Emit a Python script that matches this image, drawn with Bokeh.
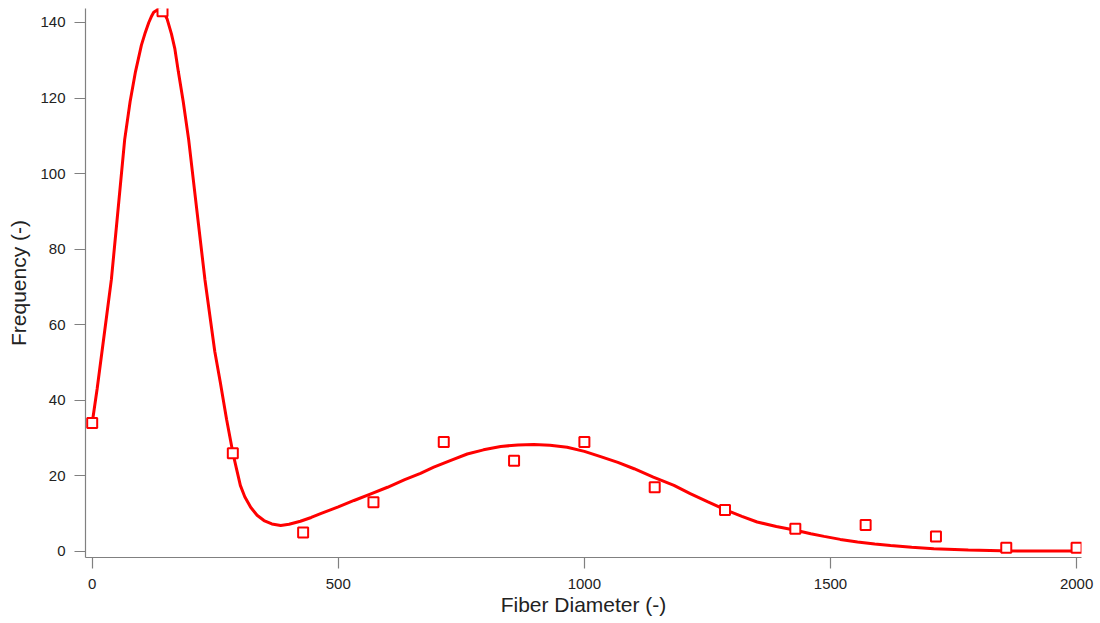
from bokeh.plotting import figure
from bokeh.models import FixedTicker
from bokeh.embed import file_html
from bokeh.resources import INLINE

# Measured histogram points
diameter = [0, 142.86, 285.71, 428.57, 571.43, 714.29, 857.14, 1000,
            1142.86, 1285.71, 1428.57, 1571.43, 1714.29, 1857.14, 2000]
frequency = [34, 143, 26, 5, 13, 29, 24, 29, 17, 11, 6, 7, 4, 1, 1]

# Fitted curve
curve_x = [0, 10, 20, 30, 39, 50, 66, 77, 88, 100, 107, 115, 120, 125, 133,
           140, 146, 152, 161, 168, 175, 185, 196, 212, 229, 249, 260, 273,
           286, 293, 301, 310, 322, 335, 349, 365, 383, 400, 423, 445, 464,
           500, 532, 565, 600, 635, 667, 694, 730, 762, 795, 830, 865, 897,
           930, 965, 1000, 1033, 1068, 1101, 1140, 1182, 1215, 1250, 1287,
           1320, 1351, 1390, 1429, 1460, 1487, 1520, 1555, 1590, 1622, 1665,
           1710, 1780, 1846, 1920, 2000]
curve_y = [34, 43, 53, 63, 72, 87, 109, 119, 127, 134, 137, 140, 141.5, 142.7,
           143.4, 143.2, 142.5, 141, 137, 133, 127, 119, 109, 91, 72, 53, 45,
           35, 26, 22, 17.5, 14.5, 11.7, 9.6, 8.2, 7.3, 6.9, 7.2, 8.0, 9.0,
           10.0, 11.8, 13.5, 15.2, 17.0, 19.0, 20.7, 22.3, 24.2, 25.8, 26.9,
           27.8, 28.2, 28.3, 28.1, 27.6, 26.5, 25.1, 23.6, 21.9, 19.7, 17.5,
           15.3, 13.2, 11.0, 9.3, 7.8, 6.6, 5.6, 4.7, 4.0, 3.2, 2.5, 2.0, 1.6,
           1.1, 0.7, 0.4, 0.2, 0.1, 0.1]

x_ticks = [0, 500, 1000, 1500, 2000]
y_ticks = [0, 20, 40, 60, 80, 100, 120, 140]

p = figure(width=1100, height=623, x_range=(-13.6, 2010), y_range=(-1.59, 143.7),
           output_backend="svg", toolbar_location=None,
           min_border_left=85, min_border_right=19, min_border_top=8,
           min_border_bottom=66)
p.xgrid.visible = False
p.ygrid.visible = False
p.outline_line_color = None

p.xaxis.ticker = FixedTicker(ticks=x_ticks)
p.yaxis.ticker = FixedTicker(ticks=y_ticks)
p.xaxis.axis_label = "Fiber Diameter (-)"
p.yaxis.axis_label = "Frequency (-)"

for ax in (p.xaxis, p.yaxis):
    ax.axis_line_color = "#808080"
    ax.axis_line_width = 1.2
    ax.major_tick_line_color = "#808080"
    ax.major_tick_line_width = 1.2
    ax.major_tick_out = 11
    ax.major_tick_in = 0
    ax.minor_tick_line_color = None
    ax.major_label_text_font = "Liberation Sans"
    ax.major_label_text_font_size = "15px"
    ax.major_label_text_color = "#222222"
    ax.axis_label_text_font = "Liberation Sans"
    ax.axis_label_text_font_size = "21px"
    ax.axis_label_text_font_style = "normal"
    ax.axis_label_text_color = "#222222"

p.xaxis.major_label_standoff = 10
p.xaxis.axis_label_standoff = 1
p.yaxis.major_label_standoff = 9
p.yaxis.axis_label_standoff = 7

p.line(curve_x, curve_y, line_color="#FF0000", line_width=3)
p.scatter(diameter, frequency, marker="square", size=10, line_color="#FF0000",
          line_width=2, fill_color="white")

open("out.html", "w").write(file_html(p, INLINE))
